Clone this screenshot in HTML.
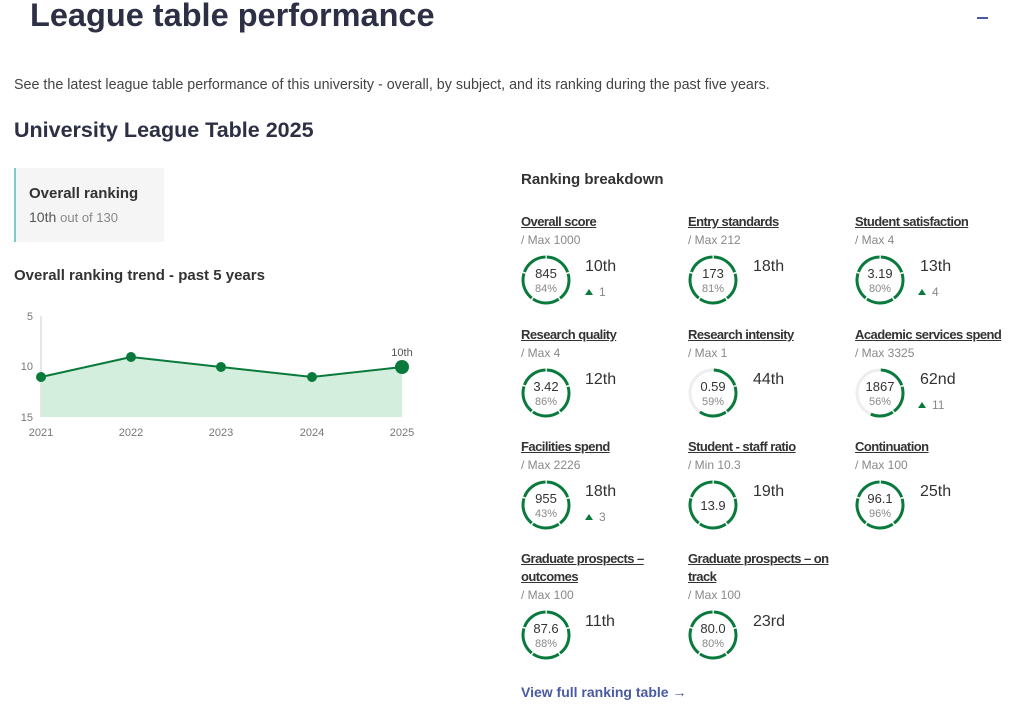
<!DOCTYPE html>
<html><head><meta charset="utf-8"><style>
body{margin:0;width:1012px;height:706px;background:#fff;font-family:"Liberation Sans",sans-serif;color:#2d2f3e;position:relative;overflow:hidden}
.a{position:absolute;white-space:nowrap}
.t{font-size:13px;color:#333;text-decoration:underline;font-weight:bold;letter-spacing:-0.55px;line-height:18px}
.m{font-size:12px;color:#888}
.r{font-size:16px;color:#333}
.up{font-size:12px;color:#888}
.up b{display:inline-block;width:0;height:0;border-left:4px solid transparent;border-right:4px solid transparent;border-bottom:6px solid #0a7a3c;margin-right:6px;vertical-align:1px}
svg text{font-family:"Liberation Sans",sans-serif}
</style></head><body>
<div class="a" style="left:30px;top:-3px;font-size:32.5px;font-weight:bold;color:#2d2f45">League table performance</div>
<div class="a" style="left:977px;top:17px;width:11px;height:2px;background:#4a5aa0"></div>
<div class="a" style="left:14px;top:77px;font-size:14.3px;color:#444">See the latest league table performance of this university - overall, by subject, and its ranking during the past five years.</div>
<div class="a" style="left:14px;top:118px;font-size:21.5px;font-weight:bold;color:#2d2f45">University League Table 2025</div>
<div class="a" style="left:14px;top:168px;width:148px;height:74px;background:#f5f5f5;border-left:2px solid #7cc9c9"></div>
<div class="a" style="left:29px;top:185px;font-size:15px;font-weight:bold;color:#333">Overall ranking</div>
<div class="a" style="left:29px;top:209px;font-size:14px;color:#555">10th <span style="font-size:13px;color:#888">out of 130</span></div>
<div class="a" style="left:14px;top:267px;font-size:15px;font-weight:bold;color:#333">Overall ranking trend - past 5 years</div>
<svg class="a" style="left:0;top:300px" width="430" height="150">
<line x1="41" y1="16" x2="41" y2="117" stroke="#ccc"/>
<polygon points="41,77 131,57 221,67 312,77 402,67 402,117 41,117" fill="#d4eedd"/>
<polyline points="41,77 131,57 221,67 312,77 402,67" fill="none" stroke="#0a7a3c" stroke-width="2"/>
<g fill="#0a7a3c"><circle cx="41" cy="77" r="5"/><circle cx="131" cy="57" r="5"/><circle cx="221" cy="67" r="5"/><circle cx="312" cy="77" r="5"/><circle cx="402" cy="67" r="7"/></g>
<g font-size="11" fill="#777"><text x="33" y="20" text-anchor="end">5</text><text x="33" y="70" text-anchor="end">10</text><text x="33" y="121" text-anchor="end">15</text>
<text x="41" y="136" text-anchor="middle">2021</text><text x="131" y="136" text-anchor="middle">2022</text><text x="221" y="136" text-anchor="middle">2023</text><text x="312" y="136" text-anchor="middle">2024</text><text x="402" y="136" text-anchor="middle">2025</text>
<text x="402" y="56" text-anchor="middle" fill="#555">10th</text></g>
</svg>
<div class="a" style="left:521px;top:171px;font-size:15px;font-weight:bold;color:#333">Ranking breakdown</div>

<svg class="a" style="left:500px;top:200px" width="512" height="480">
<defs>
<g id="full"><circle r="23" fill="none" stroke="#0a7a3c" stroke-width="3" stroke-dasharray="27.4 1.5" transform="rotate(-88)"/></g>
</defs>
<g font-size="13" fill="#333" text-anchor="middle">
<g transform="translate(46,80)"><use href="#full"/><text y="-2">845</text><text y="12" font-size="11" fill="#888">84%</text></g>
<g transform="translate(213,80)"><use href="#full"/><text y="-2">173</text><text y="12" font-size="11" fill="#888">81%</text></g>
<g transform="translate(380,80)"><use href="#full"/><text y="-2">3.19</text><text y="12" font-size="11" fill="#888">80%</text></g>
<g transform="translate(46,193)"><use href="#full"/><text y="-2">3.42</text><text y="12" font-size="11" fill="#888">86%</text></g>
<g transform="translate(213,193)"><circle r="23" fill="none" stroke="#eee" stroke-width="3"/><circle r="23" fill="none" stroke="#0a7a3c" stroke-width="3" stroke-dasharray="27.4 1.5 27.4 1.5 27.4 200" transform="rotate(-88)"/><text y="-2">0.59</text><text y="12" font-size="11" fill="#888">59%</text></g>
<g transform="translate(380,193)"><circle r="23" fill="none" stroke="#eee" stroke-width="3"/><circle r="23" fill="none" stroke="#0a7a3c" stroke-width="3" stroke-dasharray="27.4 1.5 27.4 1.5 23 200" transform="rotate(-88)"/><text y="-2">1867</text><text y="12" font-size="11" fill="#888">56%</text></g>
<g transform="translate(46,305)"><use href="#full"/><text y="-2">955</text><text y="12" font-size="11" fill="#888">43%</text></g>
<g transform="translate(213,305)"><use href="#full"/><text y="5">13.9</text></g>
<g transform="translate(380,305)"><use href="#full"/><text y="-2">96.1</text><text y="12" font-size="11" fill="#888">96%</text></g>
<g transform="translate(46,435)"><use href="#full"/><text y="-2">87.6</text><text y="12" font-size="11" fill="#888">88%</text></g>
<g transform="translate(213,435)"><use href="#full"/><text y="-2">80.0</text><text y="12" font-size="11" fill="#888">80%</text></g>
</g></svg>

<div class="a t" style="left:521px;top:213px">Overall score</div><div class="a m" style="left:521px;top:233px">/ Max 1000</div>
<div class="a r" style="left:585px;top:258px">10th</div><div class="a up" style="left:585px;top:285px"><b></b>1</div>
<div class="a t" style="left:688px;top:213px">Entry standards</div><div class="a m" style="left:688px;top:233px">/ Max 212</div>
<div class="a r" style="left:753px;top:258px">18th</div>
<div class="a t" style="left:855px;top:213px">Student satisfaction</div><div class="a m" style="left:855px;top:233px">/ Max 4</div>
<div class="a r" style="left:920px;top:258px">13th</div><div class="a up" style="left:918px;top:285px"><b></b>4</div>

<div class="a t" style="left:521px;top:326px">Research quality</div><div class="a m" style="left:521px;top:346px">/ Max 4</div>
<div class="a r" style="left:585px;top:371px">12th</div>
<div class="a t" style="left:688px;top:326px">Research intensity</div><div class="a m" style="left:688px;top:346px">/ Max 1</div>
<div class="a r" style="left:753px;top:371px">44th</div>
<div class="a t" style="left:855px;top:326px">Academic services spend</div><div class="a m" style="left:855px;top:346px">/ Max 3325</div>
<div class="a r" style="left:920px;top:371px">62nd</div><div class="a up" style="left:918px;top:398px"><b></b>11</div>

<div class="a t" style="left:521px;top:438px">Facilities spend</div><div class="a m" style="left:521px;top:458px">/ Max 2226</div>
<div class="a r" style="left:585px;top:483px">18th</div><div class="a up" style="left:585px;top:510px"><b></b>3</div>
<div class="a t" style="left:688px;top:438px">Student - staff ratio</div><div class="a m" style="left:688px;top:458px">/ Min 10.3</div>
<div class="a r" style="left:753px;top:483px">19th</div>
<div class="a t" style="left:855px;top:438px">Continuation</div><div class="a m" style="left:855px;top:458px">/ Max 100</div>
<div class="a r" style="left:920px;top:483px">25th</div>

<div class="a t" style="left:521px;top:550px">Graduate prospects –<br>outcomes</div><div class="a m" style="left:521px;top:588px">/ Max 100</div>
<div class="a r" style="left:585px;top:613px">11th</div>
<div class="a t" style="left:688px;top:550px">Graduate prospects – on<br>track</div><div class="a m" style="left:688px;top:588px">/ Max 100</div>
<div class="a r" style="left:753px;top:613px">23rd</div>

<div class="a" style="left:521px;top:684px;font-size:14px;font-weight:bold;color:#4a5aa0">View full ranking table →</div>
</body></html>
